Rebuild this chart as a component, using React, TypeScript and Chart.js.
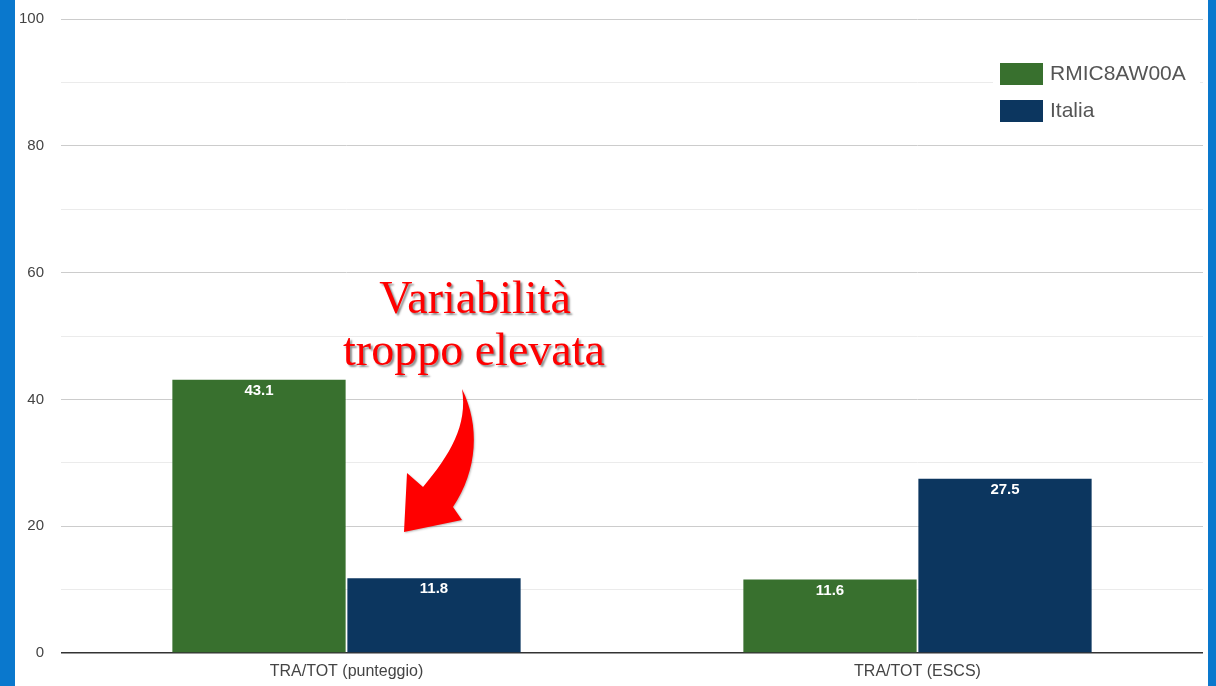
import React, { useEffect, useRef } from "react";
import { Chart, registerables } from "chart.js";

Chart.register(...registerables);

const categories = ["TRA/TOT (punteggio)", "TRA/TOT (ESCS)"];
const seriesNames = ["RMIC8AW00A", "Italia"];
const schoolValues = [43.1, 11.6];
const italyValues = [11.8, 27.5];
const seriesColors = ["#38702e", "#0c365f"];
const annotationLines = ["Variabilità", "troppo elevata"];

const SANS = "'Liberation Sans', Arial, sans-serif";

const valueLabels = {
  id: "valueLabels",
  afterDatasetsDraw(chart: any) {
    const ctx = chart.ctx;
    ctx.save();
    ctx.font = "bold 15px " + SANS;
    ctx.fillStyle = "#ffffff";
    ctx.textAlign = "center";
    ctx.textBaseline = "middle";
    chart.data.datasets.forEach((ds: any, i: number) => {
      const meta = chart.getDatasetMeta(i);
      meta.data.forEach((bar: any, j: number) => {
        ctx.fillText(String(ds.data[j]), bar.x, bar.y + 11);
      });
    });
    ctx.restore();
  },
};

const customLegend = {
  id: "customLegend",
  afterDraw(chart: any) {
    const ctx = chart.ctx;
    ctx.save();
    ctx.fillStyle = "#ffffff";
    ctx.fillRect(978, 55, 207, 75);
    chart.data.datasets.forEach((ds: any, i: number) => {
      const y = 63 + i * 37;
      ctx.fillStyle = ds.backgroundColor;
      ctx.fillRect(985, y, 43, 22);
      ctx.fillStyle = "#555";
      ctx.font = "21px " + SANS;
      ctx.textAlign = "left";
      ctx.textBaseline = "alphabetic";
      ctx.fillText(ds.label, 1035, y + 17);
    });
    ctx.restore();
  },
};

const annotation = {
  id: "annotation",
  afterDraw(chart: any) {
    const ctx = chart.ctx;
    const ox = -15;
    ctx.save();
    ctx.shadowColor = "rgba(0,0,0,0.45)";
    ctx.shadowOffsetX = 2;
    ctx.shadowOffsetY = 2;
    ctx.shadowBlur = 2;
    ctx.fillStyle = "#ff0000";
    ctx.font = "46px 'Liberation Serif', 'Times New Roman', serif";
    ctx.textAlign = "center";
    ctx.textBaseline = "alphabetic";
    ctx.fillText(annotationLines[0], 475 + ox, 313);
    ctx.fillText(annotationLines[1], 474 + ox, 365);
    ctx.shadowColor = "rgba(0,0,0,0.25)";
    ctx.shadowOffsetX = 1;
    ctx.shadowOffsetY = 1;
    ctx.beginPath();
    ctx.moveTo(462 + ox, 389);
    ctx.bezierCurveTo(480 + ox, 425, 478 + ox, 470, 453 + ox, 507);
    ctx.lineTo(462 + ox, 520);
    ctx.lineTo(404 + ox, 532);
    ctx.lineTo(407 + ox, 473);
    ctx.lineTo(423 + ox, 487);
    ctx.bezierCurveTo(450 + ox, 455, 468 + ox, 425, 462 + ox, 389);
    ctx.closePath();
    ctx.fill();
    ctx.restore();
  },
};

export default function App() {
  const ref = useRef<HTMLCanvasElement | null>(null);
  useEffect(() => {
    document.body.style.margin = "0";
    const chart = new Chart(ref.current as HTMLCanvasElement, {
      type: "bar",
      data: {
        labels: categories,
        datasets: [
          {
            label: seriesNames[0],
            data: schoolValues,
            backgroundColor: seriesColors[0],
            categoryPercentage: 0.613,
            barPercentage: 0.99,
          },
          {
            label: seriesNames[1],
            data: italyValues,
            backgroundColor: seriesColors[1],
            categoryPercentage: 0.613,
            barPercentage: 0.99,
          },
        ],
      },
      options: {
        animation: false,
        responsive: false,
        layout: { padding: { top: 19, right: 5, left: 0, bottom: 0 } },
        plugins: { legend: { display: false }, tooltip: { enabled: false } },
        scales: {
          x: {
            grid: { display: false, drawTicks: false },
            border: { display: false },
            ticks: {
              color: "#444",
              font: { size: 16, family: SANS },
              padding: 9,
            },
            afterFit: (s: any) => {
              s.height = 33;
            },
          },
          y: {
            min: 0,
            max: 100,
            border: { display: false },
            grid: {
              drawTicks: false,
              color: (c: any) =>
                c.tick.value === 0 ? "#333" : c.tick.value % 20 === 0 ? "#cccccc" : "#ebebeb",
              lineWidth: (c: any) => (c.tick.value === 0 ? 1.5 : 1),
            },
            ticks: {
              stepSize: 10,
              autoSkip: false,
              color: "#444",
              padding: 17,
              font: { size: 15, family: SANS },
              callback: (v: any) => (Number(v) % 20 === 0 ? String(v) : ""),
            },
            afterFit: (s: any) => {
              s.width = 46;
              s.paddingTop = 0;
              s.paddingBottom = 0;
            },
          },
        },
      },
      plugins: [valueLabels, customLegend, annotation],
    });
    return () => chart.destroy();
  }, []);
  return (
    <div
      style={{
        position: "fixed",
        left: 0,
        top: 0,
        width: 1216,
        height: 686,
        background: "#0a78cd",
      }}
    >
      <div style={{ position: "absolute", left: 15, top: 0, width: 1193, height: 686, background: "#fff" }}>
        <canvas ref={ref} width={1193} height={686} style={{ display: "block" }} />
      </div>
    </div>
  );
}
